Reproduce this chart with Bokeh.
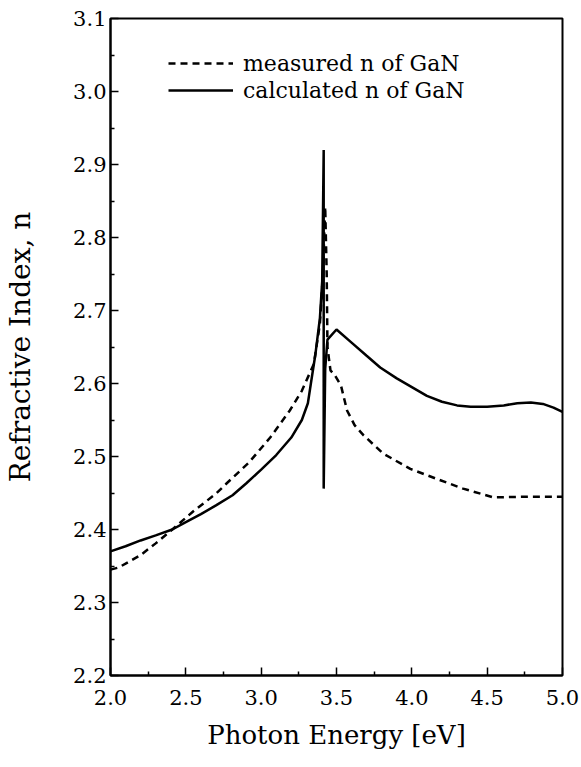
from bokeh.plotting import figure
from bokeh.models import FixedTicker, Legend, LegendItem, Range1d
from bokeh.embed import file_html
from bokeh.resources import INLINE

# ---- data ----
calc_x = [2.0, 2.1, 2.2, 2.3, 2.41, 2.5, 2.6, 2.7, 2.81, 2.9, 3.0, 3.1, 3.2, 3.27, 3.31,
          3.33, 3.36, 3.39, 3.405, 3.415, 3.415, 3.425, 3.44, 3.50, 3.6, 3.7, 3.79,
          3.9, 4.0, 4.1, 4.2, 4.3, 4.39, 4.5, 4.61, 4.7, 4.79, 4.87, 4.94, 5.0]
calc_y = [2.370, 2.377, 2.385, 2.392, 2.400, 2.410, 2.421, 2.433, 2.447, 2.463, 2.482,
          2.502, 2.526, 2.550, 2.573, 2.60, 2.64, 2.69, 2.74, 2.92, 2.456, 2.62, 2.66,
          2.674, 2.656, 2.638, 2.622, 2.607, 2.595, 2.583, 2.575, 2.570, 2.568, 2.568,
          2.570, 2.573, 2.574, 2.572, 2.567, 2.561]

meas_x = [2.0, 2.055, 2.2, 2.3, 2.41, 2.55, 2.70, 2.77, 2.92, 3.06, 3.19, 3.27, 3.35,
          3.39, 3.41, 3.425, 3.435, 3.44, 3.46, 3.49, 3.53, 3.57, 3.62, 3.68, 3.81,
          3.99, 4.17, 4.34, 4.54, 4.79, 4.96, 5.0]
meas_y = [2.345, 2.348, 2.365, 2.381, 2.400, 2.425, 2.449, 2.463, 2.492, 2.526, 2.563,
          2.590, 2.627, 2.682, 2.75, 2.842, 2.75, 2.65, 2.618, 2.611, 2.597, 2.563,
          2.543, 2.529, 2.504, 2.483, 2.469, 2.456, 2.444, 2.445, 2.445, 2.445]

x_ticks = [2.0, 2.5, 3.0, 3.5, 4.0, 4.5, 5.0]
x_tick_labels = ["2.0", "2.5", "3.0", "3.5", "4.0", "4.5", "5.0"]
x_minor = [2.25, 2.75, 3.25, 3.75, 4.25, 4.75]
y_ticks = [2.2, 2.3, 2.4, 2.5, 2.6, 2.7, 2.8, 2.9, 3.0, 3.1]
y_tick_labels = ["2.2", "2.3", "2.4", "2.5", "2.6", "2.7", "2.8", "2.9", "3.0", "3.1"]
y_minor = [2.25, 2.35, 2.45, 2.55, 2.65, 2.75, 2.85, 2.95, 3.05]

series_labels = ["measured n of GaN", "calculated n of GaN"]
x_label = "Photon Energy [eV]"
y_label = "Refractive Index, n"

FONT = "DejaVu Serif"

p = figure(width=581, height=767, output_backend="svg", toolbar_location=None,
           x_range=Range1d(2.0, 5.0), y_range=Range1d(2.2, 3.1),
           min_border_left=110, min_border_right=19, min_border_top=18,
           min_border_bottom=92)
p.grid.visible = False
p.background_fill_color = "white"
p.border_fill_color = "white"
p.outline_line_color = "black"
p.outline_line_width = 2
p.outline_line_alpha = 1

r_meas = p.line(meas_x, meas_y, line_color="black", line_width=2.5, line_dash="7 5")
r_calc = p.line(calc_x, calc_y, line_color="black", line_width=2.5)

for ax, ticks, minor, labels in ((p.xaxis[0], x_ticks, x_minor, x_tick_labels),
                                 (p.yaxis[0], y_ticks, y_minor, y_tick_labels)):
    ax.ticker = FixedTicker(ticks=ticks, minor_ticks=minor)
    ax.major_label_overrides = {t: l for t, l in zip(ticks, labels)}
    ax.axis_line_width = 2
    ax.axis_line_color = "black"
    ax.major_tick_in = 8
    ax.major_tick_out = 0
    ax.minor_tick_in = 4
    ax.minor_tick_out = 0
    ax.major_tick_line_width = 1.5
    ax.minor_tick_line_width = 1.5
    ax.major_label_text_font = FONT
    ax.major_label_text_font_size = "21px"
    ax.major_label_text_color = "black"
    ax.axis_label_text_font = FONT
    ax.axis_label_text_font_style = "normal"
    ax.axis_label_text_color = "black"

p.xaxis.axis_label = x_label
p.xaxis.axis_label_text_font_size = "26px"
p.xaxis.major_label_standoff = 14
p.xaxis.axis_label_standoff = 12
p.yaxis.axis_label = y_label
p.yaxis.axis_label_text_font_size = "28px"
p.yaxis.major_label_standoff = 4
p.yaxis.axis_label_standoff = 33

legend = Legend(items=[LegendItem(label=series_labels[0], renderers=[r_meas]),
                       LegendItem(label=series_labels[1], renderers=[r_calc])],
                location=(58, 572), padding=0, margin=0, spacing=1,
                glyph_width=65, glyph_height=26, label_height=26, label_standoff=10,
                label_text_font=FONT, label_text_font_size="22px",
                label_text_color="black",
                border_line_alpha=0, background_fill_alpha=0)
p.add_layout(legend)

open("out.html", "w").write(file_html(p, INLINE))
